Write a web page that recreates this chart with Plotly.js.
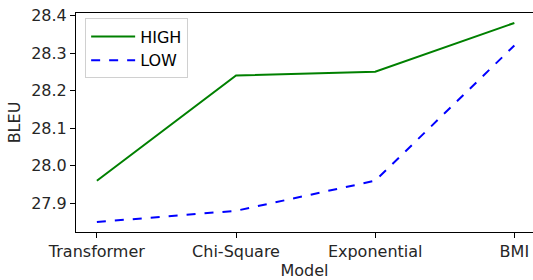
<!DOCTYPE html>
<html><head><meta charset="utf-8">
<script src="https://cdn.plot.ly/plotly-3.0.1.min.js"></script>
<style>html,body{margin:0;padding:0;background:#fff}#c{width:533px;height:280px}</style>
</head><body><div id="c"></div>
<script>
const models = ["Transformer", "Chi-Square", "Exponential", "BMI"];
const high = [27.96, 28.24, 28.25, 28.38];
const low = [27.85, 27.88, 27.96, 28.32];
const yTicks = [27.9, 28.0, 28.1, 28.2, 28.3, 28.4];
const yTickText = ["27.9", "28.0", "28.1", "28.2", "28.3", "28.4"];

const font = {family: "DejaVu Sans", size: 16, color: "#262626"};
const idx = models.map((_, i) => i);
const traces = [
  {x: idx, y: high, name: "HIGH", mode: "lines", line: {color: "#008000", width: 2}},
  {x: idx, y: low, name: "LOW", mode: "lines", line: {color: "#0000ff", width: 2, dash: "dash"}}
];
const layout = {
  width: 533, height: 280,
  margin: {l: 76, r: 0, t: 13, b: 48},
  paper_bgcolor: "#fff", plot_bgcolor: "#fff",
  font: font,
  showlegend: true,
  legend: {x: 0.02, y: 0.975, xanchor: "left", yanchor: "top", bgcolor: "rgba(255,255,255,0.8)",
           bordercolor: "#d0d0d0", borderwidth: 1, itemwidth: 44,
           font: {family: "DejaVu Sans", size: 16, color: "#000"}},
  xaxis: {
    range: [-0.15, 3.134], tickvals: idx, ticktext: models,
    showgrid: false, zeroline: false, showline: true, linecolor: "#000", linewidth: 1, mirror: true,
    ticks: "outside", ticklen: 5, tickcolor: "#000",
    title: {text: "Model", font: font, standoff: 4}
  },
  yaxis: {
    range: [27.8235, 28.4065], tickvals: yTicks, ticktext: yTickText,
    showgrid: false, zeroline: false, showline: true, linecolor: "#000", linewidth: 1, mirror: true,
    ticks: "outside", ticklen: 5, tickcolor: "#000",
    title: {text: "BLEU", font: font, standoff: 6}
  }
};
Plotly.newPlot("c", traces, layout, {displayModeBar: false, staticPlot: true});
</script></body></html>
